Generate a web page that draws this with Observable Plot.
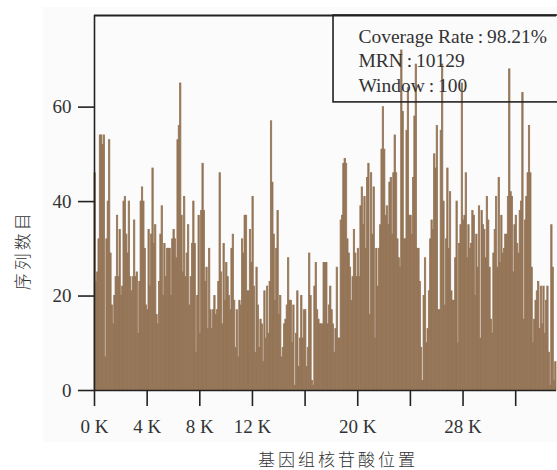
<!DOCTYPE html>
<html>
<head>
<meta charset="utf-8">
<script src="https://cdn.jsdelivr.net/npm/d3@7"></script>
<script src="https://cdn.jsdelivr.net/npm/@observablehq/plot@0.6"></script>
<style>
html,body{margin:0;padding:0;background:#fff;width:557px;height:470px;overflow:hidden}
#wrap{position:relative;width:557px;height:470px}
#bg{position:absolute;left:43px;top:7px;width:514px;height:435px;background:#fbfbfb}
#chart{position:absolute;left:0;top:0}
</style>
</head>
<body>
<div id="wrap"><div id="bg"></div><div id="chart"></div></div>
<script>
const windowSize = 100;
const segA = [46,23,25,32,54,54,52,54,7,32,40,53,29,18,14,20,24,37,24,34,20,22,40,41,33,29,40,24,21,24,36,24,25,12,23,40,43,40,30,18,17,34,22,33,47,31,35,16,14,23,33,39,20,31,24,30,30];
const segB = [30,20,32,34,32,28,53,56,65,37,25,41,24,29,35,18,24,31,40,31,8,20,37,12,38,48,38,23,26,13,30,17,13,17,20,16,17,23,46,25,14,31,19,27,24,20,17,30,33,19,9,17,7,19,18,32,29,37,37,21];
const segC = [21,34,27,41,22,8,26,18,9,15,14,6,21,11,22,12,23,57,44,33,19,30,38,16,20,7,9,14,15,18,28,19,19,10,18,1,12,21,5,11,20,11,17,17,5,9,29,20,2,1,22,27,17,15,14,14,14,27,27];
const segD = [27,14,18,22,17,14,8,13,26,11,11,36,37,48,49,48,32,29,26,19,24,34,29,24,30,24,39,43,35,41,30,45,48,16,46,33,43,11,30,22,30,35,51,60,51,37,39,35,44,45,33,46,54,46,32,28,26,72,59];
const segE = [32,32,55,64,37,37,33,45,58,69,30,30,23,9,2,20,28,10,13,21,32,36,34,50,47,56,17,17,55,69,40,18,32,47,30,42,21,19,19,28,40,10,31,35,65,36,37,46,28,35,30,31,38,37,20,33,26,39,11];
const segF = [38,35,34,28,41,36,26,15,12,29,34,41,26,45,27,37,29,30,33,33,41,68,42,41,25,35,37,31,29,38,40,63,15,36,41,46,56,46,26,10,15,19,21,23,13,22,14,22,12,19,22,8,1,35,26,2,6];
const segStarts = [0,5700,11700,17600,23500,29400];
const segments = [segA,segB,segC,segD,segE,segF];

const bars = segments.flatMap((seg,s)=>seg.map((v,i)=>({
  x1: segStarts[s]+i*windowSize, x2: segStarts[s]+(i+1)*windowSize, y: v
})));

const xTicks = [0,4000,8000,12000,16000,20000,24000,28000,32000];
const xTickLabels = ["0 K","4 K","8 K","12 K","","20 K","","28 K",""];
const yTicks = [0,20,40,60];
const xMax = 35100, yMax = 79.4;
const infoLines = ["Coverage Rate\u2009:\u200998.21%","MRN\u2009:\u200910129","Window\u2009:\u2009100"];
const infoY = [75,69.9,64.6];
const infoX = 20050;
const box = {x1:18160,x2:36000,y1:61,y2:yMax};
const xTitle = "基因组核苷酸位置", yTitle = "序列数目";
const barColor = "#957557", ink = "#222", textColor = "#333";
const serif = "'Liberation Serif',serif";
const cjk = "'Noto Sans CJK SC',sans-serif";

const plot = Plot.plot({
  width:557, height:470,
  marginLeft:94, marginRight:1, marginTop:15, marginBottom:80,
  style:{background:"transparent",fontFamily:serif},
  x:{domain:[0,xMax]},
  y:{domain:[0,yMax]},
  marks:[
    Plot.rectY(bars,{x1:"x1",x2:"x2",y:"y",fill:barColor,stroke:barColor,strokeWidth:0.8}),
    Plot.ruleY([0],{stroke:ink,strokeWidth:1.6}),
    Plot.ruleY([yMax],{stroke:ink,strokeWidth:1.8}),
    Plot.ruleX([0],{y1:0,y2:yMax,stroke:ink,strokeWidth:1.6}),
    Plot.rect([box],{x1:"x1",x2:"x2",y1:"y1",y2:"y2",fill:"none",stroke:ink,strokeWidth:1.6}),
    Plot.axisX({ticks:xTicks,tickSize:16,tickPadding:13,stroke:ink,strokeWidth:1.6,
      tickFormat:d=>xTickLabels[xTicks.indexOf(d)],fontSize:19,fill:textColor,label:null}),
    Plot.axisY({ticks:yTicks,tickSize:16,tickPadding:7,stroke:ink,strokeWidth:1.6,
      fontSize:19,fill:textColor,label:null}),
    Plot.text(infoLines,{x:infoX,y:(d,i)=>infoY[i],text:d=>d,textAnchor:"start",fontSize:19.5,fill:textColor,fontFamily:serif}),
    Plot.text([xTitle],{x:18500,y:-14.9,text:d=>d,fontSize:17,fill:textColor,fontFamily:cjk,fontWeight:300}),
    Plot.text([yTitle],{x:-5390,y:29.7,rotate:-90,text:d=>d,fontSize:17,fill:textColor,fontFamily:cjk,fontWeight:300})
  ]
});
plot.querySelectorAll("text").forEach(t=>{ if([xTitle,yTitle].includes(t.textContent)) t.style.letterSpacing="3px"; });
document.getElementById("chart").appendChild(plot);
</script>
</body>
</html>
